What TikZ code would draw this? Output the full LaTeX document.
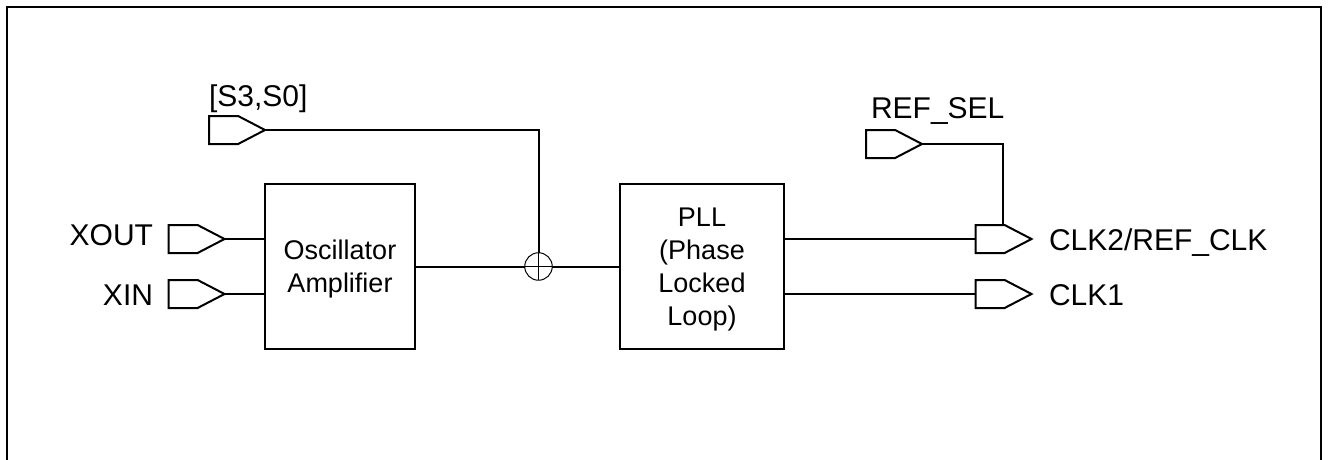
\documentclass[tikz,border=0pt]{standalone}
\usepackage{fontspec}
\setmainfont{Liberation Sans}
\usetikzlibrary{shapes.symbols}
\definecolor{padblack}{RGB}{0,0,0}
\newcommand{\blockstrut}{\rule{0pt}{18pt}}

\begin{document}
\begin{tikzpicture}[
    x=0.75pt, y=-0.75pt,
    line width=1.5pt, draw=padblack,
    every node/.style={align=center, inner sep=0pt, outer sep=0pt},
    blockbox/.style={draw, line width=1.5pt, minimum height=123.5pt, font=\fontsize{20.25}{24.75}\selectfont},
    pinpad/.style={draw, line width=1.5pt, anchor=west, shape=signal, signal to=east, signal pointer angle=55, minimum width=42pt, minimum height=21pt},
    pinlabel/.style={font=\fontsize{22.5}{27}\selectfont},
    thinline/.style={line width=0.75pt}
]
\useasboundingbox (0,0) rectangle (1328,460);
\draw (7,460) -- (7,7) -- (1321,7) -- (1321,460);

\node[blockbox, minimum width=112.5pt] (osc) at (340,266.5) {\blockstrut Oscillator\\Amplifier};
\node[blockbox, minimum width=123pt] (pll) at (702,266.5) {\blockstrut PLL\\(Phase\\Locked\\Loop)};
\node[draw, thinline, circle, minimum size=20.6pt] (xing) at (538.5,266.5) {};

\node[pinpad] (s3s0) at (209,130) {};
\node[pinpad] (xout) at (168.5,239) {};
\node[pinpad] (xin) at (168.5,294) {};
\node[pinpad] (refsel) at (866,144) {};
\node[pinpad] (clktwo) at (975.5,239) {};
\node[pinpad] (clkone) at (975.5,294) {};
\coordinate (clktwotop) at (1003,225);

\node[pinlabel, anchor=base west] (s3s0txt) at (209,107) {[S3,S0]};
\node[pinlabel, anchor=base east] (xouttxt) at (153,245) {XOUT};
\node[pinlabel, anchor=base east] (xintxt) at (153,305) {XIN};
\node[pinlabel, anchor=base west] (refseltxt) at (871,118) {REF\_SEL};
\node[pinlabel, anchor=base west] (clktwotxt) at (1049,250) {CLK2/REF\_CLK};
\node[pinlabel, anchor=base west] (clkonetxt) at (1049,305) {CLK1};

\draw (s3s0.east) -| (xing.north);
\draw (osc.east) -- (xing.west);
\draw (xing.east) -- (pll.west);
\draw[thinline] (xing.north) -- (xing.south);
\draw[thinline] (xing.west) -- (xing.east);
\draw (xout.east) -- (xout.east -| osc.west);
\draw (xin.east) -- (xin.east -| osc.west);
\draw (clktwo.west -| pll.east) -- (clktwo.west);
\draw (clkone.west -| pll.east) -- (clkone.west);
\draw (refsel.east) -| (clktwotop);
\end{tikzpicture}
\end{document}
